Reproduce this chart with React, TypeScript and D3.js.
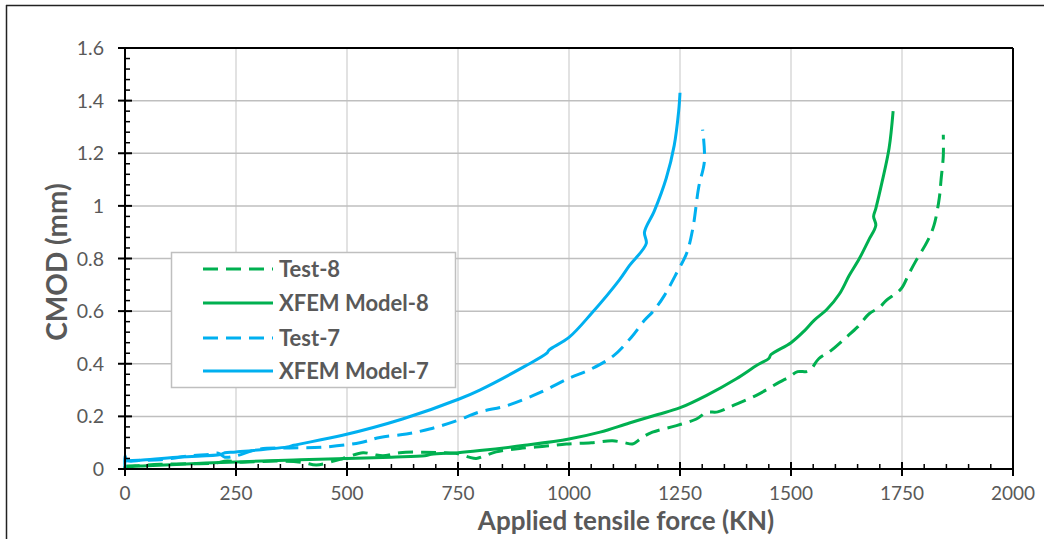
import React from "react";
import * as d3 from "d3";

// Test-8 (green dashed): [force KN, CMOD mm]
const test8: [number, number][] = [
  [0, 0.005], [30, 0.012], [80, 0.018], [150, 0.02], [200, 0.022], [230, 0.03], [260, 0.026],
  [341, 0.03], [400, 0.025], [431, 0.015], [470, 0.03], [491, 0.04], [536, 0.062], [560, 0.055],
  [581, 0.05], [619, 0.062], [671, 0.064], [709, 0.062], [750, 0.058], [775, 0.045], [791, 0.04],
  [810, 0.05], [836, 0.065], [889, 0.078], [949, 0.087], [994, 0.095], [1050, 0.1], [1098, 0.107],
  [1125, 0.1], [1143, 0.095], [1165, 0.12], [1188, 0.14], [1242, 0.165], [1287, 0.19], [1310, 0.215],
  [1335, 0.217], [1368, 0.24], [1422, 0.28], [1474, 0.33], [1496, 0.35], [1515, 0.37], [1540, 0.372],
  [1563, 0.42], [1590, 0.45], [1624, 0.5], [1650, 0.54], [1676, 0.59], [1700, 0.615], [1714, 0.64],
  [1748, 0.685], [1765, 0.74], [1781, 0.79], [1807, 0.865], [1822, 0.926], [1834, 1.03], [1838, 1.1],
  [1843, 1.19], [1843, 1.27]
];

// XFEM Model-8 (green solid)
const model8: [number, number][] = [
  [0, 0.0], [0, 0.008], [50, 0.012], [150, 0.02], [251, 0.027], [380, 0.034], [500, 0.04],
  [600, 0.045], [675, 0.05], [690, 0.056], [750, 0.062], [799, 0.07], [900, 0.09], [1000, 0.114],
  [1070, 0.14], [1136, 0.175], [1200, 0.207], [1249, 0.232], [1310, 0.28], [1377, 0.343],
  [1424, 0.395], [1450, 0.42], [1455, 0.435], [1500, 0.48], [1530, 0.525], [1552, 0.565],
  [1580, 0.605], [1609, 0.665], [1631, 0.735], [1654, 0.8], [1675, 0.87], [1691, 0.926],
  [1686, 0.96], [1691, 0.99], [1705, 1.09], [1721, 1.22], [1730, 1.36]
];

// Test-7 (blue dashed)
const test7: [number, number][] = [
  [0, 0.03], [30, 0.033], [80, 0.035], [146, 0.05], [190, 0.055], [210, 0.06], [225, 0.045],
  [250, 0.05], [300, 0.075], [371, 0.08], [446, 0.083], [529, 0.1], [574, 0.12], [634, 0.133],
  [686, 0.152], [746, 0.183], [799, 0.217], [859, 0.24], [934, 0.29], [1000, 0.345], [1050, 0.38],
  [1100, 0.43], [1140, 0.5], [1170, 0.565], [1190, 0.6], [1215, 0.66], [1244, 0.75], [1265, 0.82],
  [1279, 0.915], [1292, 1.07], [1305, 1.17], [1301, 1.29]
];

// XFEM Model-7 (blue solid)
const model7: [number, number][] = [
  [0, 0.005], [0, 0.05], [5, 0.032], [40, 0.034], [125, 0.046], [215, 0.055], [225, 0.062],
  [250, 0.065], [370, 0.085], [380, 0.09], [490, 0.128], [625, 0.19], [754, 0.267], [799, 0.3],
  [900, 0.39], [950, 0.44], [955, 0.452], [1000, 0.5], [1050, 0.59], [1114, 0.72], [1136, 0.773],
  [1174, 0.857], [1170, 0.9], [1192, 0.98], [1219, 1.105], [1237, 1.23], [1247, 1.36], [1250, 1.43]
];

const xTicks = [0, 250, 500, 750, 1000, 1250, 1500, 1750, 2000];
const yTicks = [0, 0.2, 0.4, 0.6, 0.8, 1, 1.2, 1.4, 1.6];

const GREEN = "#00B050";
const BLUE = "#00B0F0";
const TEXT = "#595959";
const FONT = "Lato, 'Liberation Sans', sans-serif";

const series = [
  { name: "Test-8", data: test8, color: GREEN, dash: "15 8" },
  { name: "XFEM Model-8", data: model8, color: GREEN, dash: null },
  { name: "Test-7", data: test7, color: BLUE, dash: "15 8" },
  { name: "XFEM Model-7", data: model7, color: BLUE, dash: null },
];

export default function App() {
  const W = 1044, H = 539;
  const x = d3.scaleLinear().domain([0, 2000]).range([125, 1013]);
  const y = d3.scaleLinear().domain([0, 1.6]).range([469, 48]);
  const line = d3.line<[number, number]>().x(d => x(d[0])).y(d => y(d[1])).curve(d3.curveCatmullRom.alpha(0.5));

  const xMinor = d3.range(0, 2000, 50).filter(v => v % 250 !== 0);
  const yMinor = d3.range(0, 161, 4).map(v => v / 100).filter(v => Math.round(v * 100) % 20 !== 0);

  const legendRows = [269, 303, 338, 371];

  return (
    <svg width={W} height={H} style={{ position: "absolute", left: 0, top: 0 }}>
      <rect x={0} y={0} width={W} height={H} fill="#fff" />
      {/* outer frame */}
      <line x1={6} y1={5.5} x2={W} y2={5.5} stroke="#222" strokeWidth={1.5} />
      <line x1={6.5} y1={5} x2={6.5} y2={H} stroke="#222" strokeWidth={1.5} />

      {/* grid */}
      {xTicks.slice(1, -1).map(v => (
        <line key={"gx" + v} x1={x(v)} x2={x(v)} y1={y(1.6)} y2={y(0)} stroke="#d9d9d9" strokeWidth={1.5} />
      ))}
      {yTicks.slice(1, -1).map(v => (
        <line key={"gy" + v} x1={x(0)} x2={x(2000)} y1={y(v)} y2={y(v)} stroke="#bfbfbf" strokeWidth={1.5} />
      ))}

      {/* plot frame */}
      <line x1={x(0)} x2={x(2000)} y1={y(1.6)} y2={y(1.6)} stroke="#000" strokeWidth={2} />
      <line x1={x(2000)} x2={x(2000)} y1={y(1.6)} y2={y(0)} stroke="#000" strokeWidth={2} />

      {/* series */}
      {series.map(s => (
        <path key={s.name} d={line(s.data) || ""} fill="none" stroke={s.color} strokeWidth={3}
          strokeDasharray={s.dash || undefined} strokeLinejoin="round" />
      ))}

      {/* axes */}
      <line x1={x(0)} x2={x(2000)} y1={y(0)} y2={y(0)} stroke="#000" strokeWidth={2} />
      <line x1={x(0)} x2={x(0)} y1={y(1.6)} y2={y(0)} stroke="#000" strokeWidth={2} />
      {xTicks.map(v => (
        <line key={"xt" + v} x1={x(v)} x2={x(v)} y1={y(0) - 7} y2={y(0) + 7} stroke="#000" strokeWidth={2} />
      ))}
      {xMinor.map(v => (
        <line key={"xm" + v} x1={x(v)} x2={x(v)} y1={y(0) - 5} y2={y(0)} stroke="#000" strokeWidth={1.5} />
      ))}
      {yTicks.map(v => (
        <line key={"yt" + v} x1={x(0) - 7} x2={x(0) + 7} y1={y(v)} y2={y(v)} stroke="#000" strokeWidth={2} />
      ))}
      {yMinor.map(v => (
        <line key={"ym" + v} x1={x(0)} x2={x(0) + 5} y1={y(v)} y2={y(v)} stroke="#000" strokeWidth={1.5} />
      ))}

      {/* tick labels */}
      {xTicks.map(v => (
        <text key={"xl" + v} x={x(v)} y={500} textAnchor="middle" fontFamily={FONT} fontSize={19} fill={TEXT}>
          {v}
        </text>
      ))}
      {yTicks.map(v => (
        <text key={"yl" + v} x={104} y={y(v) + 7} textAnchor="end" fontFamily={FONT} fontSize={19.5} fill={TEXT}>
          {d3.format("~g")(v)}
        </text>
      ))}

      {/* axis titles */}
      <text x={626} y={530} textAnchor="middle" fontFamily={FONT} fontSize={26} fontWeight="bold" fill={TEXT}>
        Applied tensile force (KN)
      </text>
      <text transform="translate(67,262) rotate(-90)" textAnchor="middle" fontFamily={FONT} fontSize={28}
        fontWeight="bold" fill={TEXT}>
        CMOD (mm)
      </text>

      {/* legend */}
      <rect x={171.5} y={252.5} width={284} height={135} fill="#fff" stroke="#bfbfbf" strokeWidth={1.5} />
      {series.map((s, i) => (
        <g key={"lg" + s.name}>
          <line x1={203} x2={273} y1={legendRows[i]} y2={legendRows[i]} stroke={s.color} strokeWidth={3}
            strokeDasharray={s.dash || undefined} />
          <text x={279} y={legendRows[i] + 7.5} fontFamily={FONT} fontSize={22} fontWeight="bold" fill={TEXT}>
            {s.name}
          </text>
        </g>
      ))}
    </svg>
  );
}
